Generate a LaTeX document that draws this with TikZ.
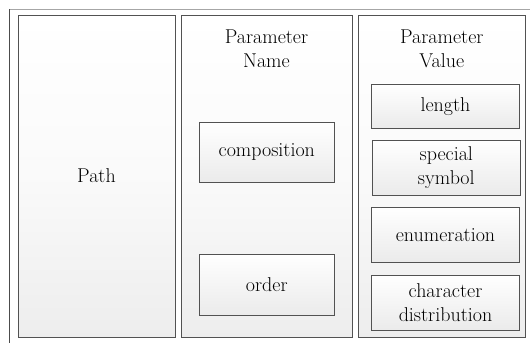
\documentclass[tikz,border=0pt]{standalone}
\begin{document}
\begin{tikzpicture}[x=1pt,y=-1pt,
  panel/.style={draw=black!68,line width=0.9pt,top color=white,bottom color=black!7,middle color=black!2},
  inbox/.style={draw=black!68,line width=0.9pt,top color=white,bottom color=black!8,align=center,font=\fontsize{20}{24}\selectfont},
  label/.style={align=center,font=\fontsize{20}{24}\selectfont,inner sep=0pt}]
\useasboundingbox (0,0) rectangle (530,343);
% outer frame
\draw[black!35,line width=0.9pt] (9,9) -- (530,9);
\draw[black!70,line width=0.9pt] (9,9) -- (9,343);
% panels
\path[panel] (18,15) rectangle (175,337);
\path[panel] (181,15) rectangle (352,337);
\path[panel] (358.5,15) rectangle (525,337);
\node[label] (path) at (96.5,176) {Path};
\node[label,anchor=north] (pname) at (266.5,30) {Parameter\\Name};
\node[label,anchor=north] (pvalue) at (441.8,30) {Parameter\\Value};
% name boxes
\node[inbox,minimum width=135pt,minimum height=60.5pt] (comp) at (266.8,152.3) {composition};
\node[inbox,minimum width=135pt,minimum height=60.5pt] (order) at (266.8,284.7) {order};
% value boxes
\node[inbox,minimum width=147.6pt,minimum height=44.7pt,inner sep=0pt] (len) at (445.5,106.3) {length};
\node[inbox,minimum width=147.3pt,minimum height=55pt,inner sep=0pt] (spec) at (446.3,167.5) {special\\symbol};
\node[inbox,minimum width=147.6pt,minimum height=55pt,inner sep=0pt] (enum) at (445.5,234.8) {enumeration};
\node[inbox,minimum width=147.6pt,minimum height=55pt,inner sep=0pt] (chd) at (445.5,302.5) {character\\distribution};
\end{tikzpicture}
\end{document}
